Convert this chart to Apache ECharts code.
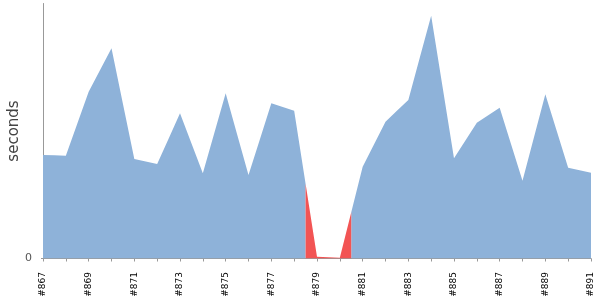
<!DOCTYPE html>
<html>
<head>
<meta charset="utf-8">
<script src="https://cdn.jsdelivr.net/npm/echarts@6/dist/echarts.min.js"></script>
<style>html,body{margin:0;padding:0;background:#fff}#c{width:600px;height:300px}</style>
</head>
<body>
<div id="c"></div>
<script>
// Build numbers (categories)
var builds = ['#867','#868','#869','#870','#871','#872','#873','#874','#875','#876','#877','#878','#879',
              '#880','#881','#882','#883','#884','#885','#886','#887','#888','#889','#890','#891'];
// Build duration (seconds)
var durations = [103.5,102.8,166.8,210.2,99.5,94.5,145.2,85.2,165.2,83.5,155.2,147.8,1.8,
                 0.8,91.8,136.8,158.5,242.8,100.2,135.8,150.8,77.8,164.2,90.8,85.8];
// Build result: S = success, F = failure
var results = ['S','S','S','S','S','S','S','S','S','S','S','S','F',
               'F','S','S','S','S','S','S','S','S','S','S','S'];
var yTicks = [0];

function cellSeries(flag) {
  var out = [];
  var n = durations.length;
  for (var i = 0; i < n; i++) {
    if (results[i] !== flag) { out.push([i, null]); continue; }
    var xl = Math.max(0, i - 0.5), xr = Math.min(n - 1, i + 0.5);
    var yl = i === 0 ? durations[0] : (durations[i - 1] + durations[i]) / 2;
    var yr = i === n - 1 ? durations[i] : (durations[i] + durations[i + 1]) / 2;
    out.push([xl, yl], [i, durations[i]], [xr, yr]);
  }
  return out;
}

var chart = echarts.init(document.getElementById('c'), null, {renderer: 'canvas'});
chart.setOption({
  animation: false,
  grid: {left: 43, right: 9, top: 3.5, bottom: 41.5, containLabel: false, outerBoundsMode: 'none'},
  xAxis: [{
    type: 'category', data: builds, boundaryGap: false, offset: 4.5,
    axisLine: {show: true, lineStyle: {color: '#999', width: 1}},
    axisTick: {show: true, interval: 0, length: 3, lineStyle: {color: '#999'}},
    axisLabel: {interval: 1, rotate: 90, fontSize: 9, color: '#000', fontFamily: 'DejaVu Sans', margin: 9},
    splitLine: {show: false}
  }, {
    type: 'value', min: 0, max: builds.length - 1, show: false
  }],
  yAxis: {
    type: 'value', min: 0, max: 255, offset: 3,
    name: 'seconds', nameLocation: 'middle', nameGap: 18, nameRotate: 90, nameMoveOverlap: false,
    nameTextStyle: {fontSize: 15, color: '#444', fontFamily: 'DejaVu Sans'},
    axisLine: {show: true, lineStyle: {color: '#999'}},
    axisTick: {show: true, length: 2, customValues: yTicks, lineStyle: {color: '#999'}},
    axisLabel: {customValues: yTicks, fontSize: 11, color: '#555', fontFamily: 'DejaVu Sans', margin: 8},
    splitLine: {show: false}
  },
  series: [{
    type: 'line', xAxisIndex: 1, data: cellSeries('S'), showSymbol: false, connectNulls: false,
    lineStyle: {width: 0}, areaStyle: {color: '#8eb2d9', opacity: 1}, silent: true
  }, {
    type: 'line', xAxisIndex: 1, data: cellSeries('F'), showSymbol: false, connectNulls: false,
    lineStyle: {width: 0}, areaStyle: {color: '#f25454', opacity: 1}, silent: true
  }]
});
</script>
</body>
</html>
